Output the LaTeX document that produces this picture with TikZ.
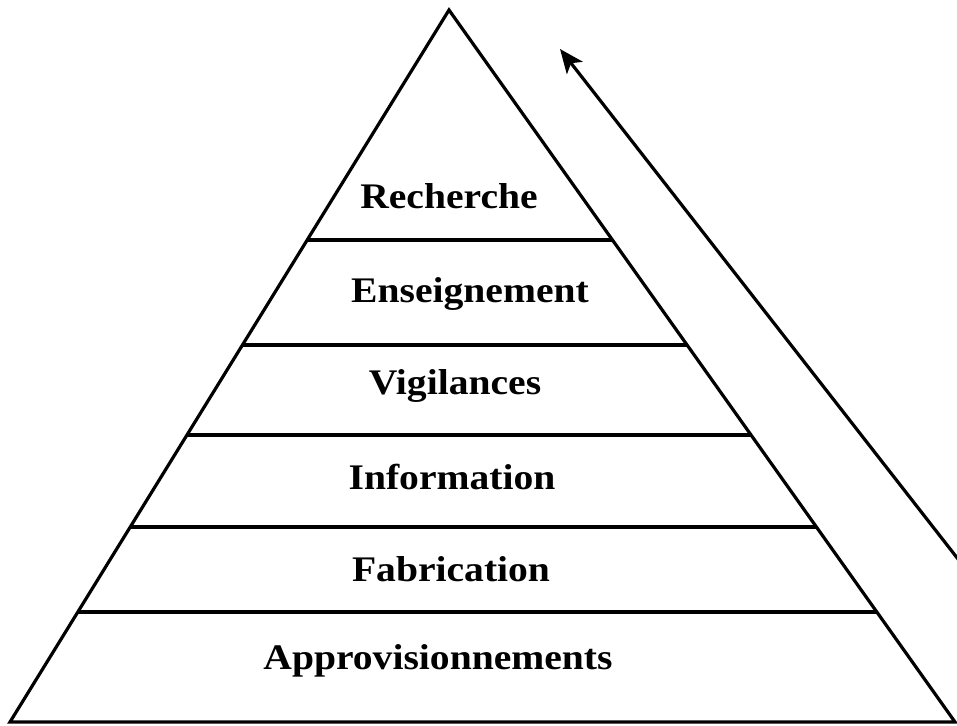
\documentclass[tikz,border=0pt]{standalone}
\usepackage{fontspec}
\setmainfont{Liberation Serif}
\usetikzlibrary{arrows.meta, calc}

\begin{document}
\begin{tikzpicture}[x=0.5pt,y=-0.5pt,
    level/.style={font=\fontsize{18pt}{20pt}\selectfont\bfseries, anchor=base, inner sep=0pt}]
    \useasboundingbox (0,0) rectangle (957,726);

    \coordinate (apex) at (449,10);
    \coordinate (bl) at (10,722);
    \coordinate (br) at (955,722);

    \draw[line width=1.6pt, line join=miter] (bl) -- (apex) -- (br) -- cycle;
    \foreach \y in {240,345,435,527,612}
        \draw[line width=1.6pt] ($(apex)!{(\y-10)/712}!(bl)$) -- ($(apex)!{(\y-10)/712}!(br)$);

    \node[level] (rech) at (449,209) {\scalebox{1.1}[1]{Recherche}};
    \node[level] (ens) at (470,303) {\scalebox{1.1}[1]{Enseignement}};
    \node[level] (vig) at (455,395) {\scalebox{1.1}[1]{Vigilances}};
    \node[level] (info) at (452,489) {\scalebox{1.1}[1]{Information}};
    \node[level] (fab) at (451,581) {\scalebox{1.1}[1]{Fabrication}};
    \node[level] (appro) at (438,669) {\scalebox{1.1}[1]{Approvisionnements}};

    \coordinate (arrowfoot) at (965,568);
    \coordinate (arrowtip) at (560,49);
    \draw[line width=1.6pt, -{Stealth[length=12pt,width=10pt,inset=3pt]}] (arrowfoot) -- (arrowtip);
\end{tikzpicture}
\end{document}
